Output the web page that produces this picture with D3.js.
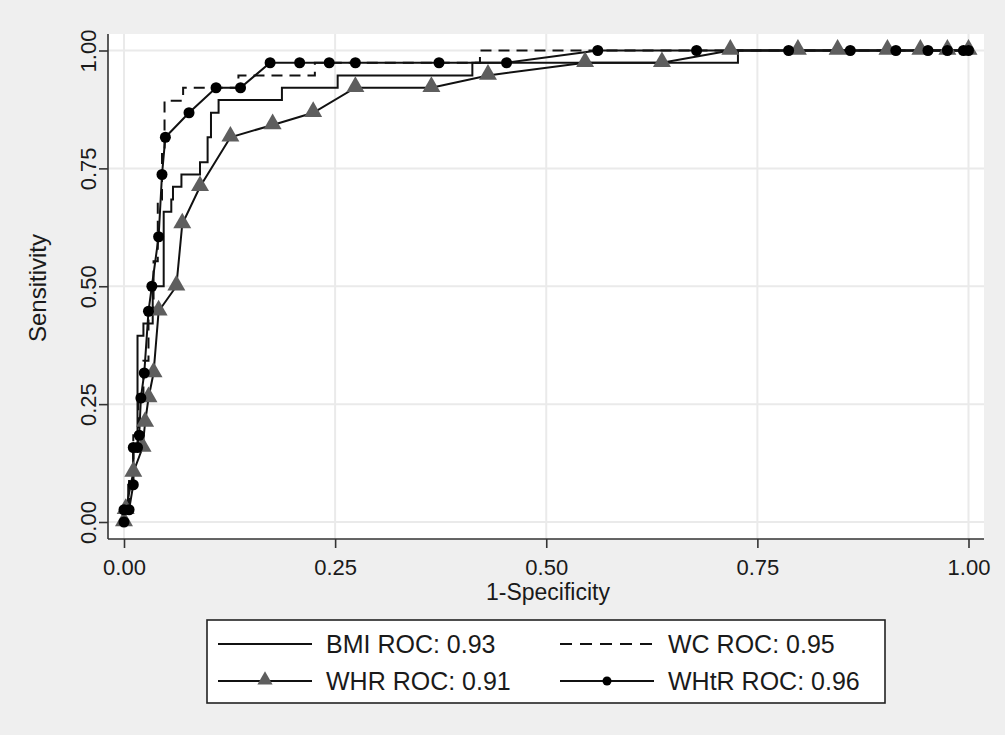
<!DOCTYPE html>
<html>
<head>
<meta charset="utf-8">
<script src="https://cdn.jsdelivr.net/npm/d3@7"></script>
<style>
  body { margin: 0; background: #efefef; }
  text { font-family: "Liberation Sans", Arial, sans-serif; fill: #1a1a1a; }
</style>
</head>
<body>
<svg id="chart" width="1005" height="735"></svg>
<script>
// ROC curves: [1-specificity, sensitivity]
var bmiPts = [[0,0],[0,0.026],[0.005,0.026],[0.005,0.079],[0.011,0.079],[0.011,0.158],[0.016,0.158],
  [0.016,0.395],[0.023,0.395],[0.023,0.421],[0.034,0.421],[0.034,0.5],[0.047,0.5],[0.047,0.658],
  [0.056,0.658],[0.056,0.684],[0.058,0.684],[0.058,0.711],[0.068,0.711],[0.068,0.737],[0.090,0.737],
  [0.090,0.763],[0.099,0.763],[0.099,0.816],[0.103,0.816],[0.103,0.868],[0.112,0.868],[0.112,0.895],
  [0.187,0.895],[0.187,0.921],[0.253,0.921],[0.253,0.947],[0.4125,0.947],[0.4125,0.974],
  [0.727,0.974],[0.727,1],[1,1]];
var wcPts = [[0,0],[0,0.026],[0.006,0.026],[0.006,0.105],[0.011,0.105],[0.011,0.184],[0.017,0.184],
  [0.017,0.263],[0.023,0.263],[0.023,0.342],[0.029,0.342],[0.029,0.447],[0.035,0.447],[0.035,0.553],
  [0.040,0.553],[0.040,0.684],[0.045,0.684],[0.045,0.790],[0.048,0.790],[0.048,0.8935],[0.070,0.8935],
  [0.070,0.921],[0.1355,0.921],[0.1355,0.947],[0.226,0.947],[0.226,0.974],[0.4215,0.974],[0.4215,1],[1,1]];
var whrPts = [[0,0],[0.002,0.026],[0.011,0.105],[0.022,0.158],[0.025,0.211],[0.029,0.263],[0.035,0.316],
  [0.041,0.447],[0.062,0.5],[0.069,0.632],[0.090,0.711],[0.126,0.816],[0.176,0.842],[0.224,0.868],
  [0.274,0.921],[0.364,0.921],[0.431,0.947],[0.546,0.974],[0.637,0.974],[0.718,1],[0.798,1],[0.845,1],
  [0.904,1],[0.943,1],[0.975,1],[1,1]];
var whtrPts = [[0,0],[0,0.026],[0.006,0.026],[0.011,0.079],[0.011,0.158],[0.016,0.158],[0.018,0.184],
  [0.020,0.263],[0.024,0.316],[0.029,0.447],[0.033,0.5],[0.041,0.605],[0.045,0.737],[0.049,0.816],
  [0.077,0.868],[0.109,0.921],[0.138,0.921],[0.173,0.974],[0.208,0.974],[0.243,0.974],[0.274,0.974],
  [0.373,0.974],[0.453,0.974],[0.561,1],[0.678,1],[0.787,1],[0.860,1],[0.914,1],[0.952,1],[0.975,1],
  [0.994,1],[1,1]];
var tickVals = [0, 0.25, 0.5, 0.75, 1];
var legendLabels = ["BMI ROC: 0.93", "WC ROC: 0.95", "WHR ROC: 0.91", "WHtR ROC: 0.96"];

var svg = d3.select("#chart");
var x = d3.scaleLinear().domain([0, 1]).range([124, 968.5]);
var y = d3.scaleLinear().domain([0, 1]).range([522, 50.5]);

// plot region
svg.append("rect").attr("x", 108).attr("y", 34).attr("width", 876).attr("height", 505).attr("fill", "#fff");

// grid
svg.selectAll(".gx").data(tickVals).enter().append("line")
  .attr("x1", d => x(d)).attr("x2", d => x(d)).attr("y1", 34).attr("y2", 539)
  .attr("stroke", "#eaeaea").attr("stroke-width", 2);
svg.selectAll(".gy").data(tickVals).enter().append("line")
  .attr("y1", d => y(d)).attr("y2", d => y(d)).attr("x1", 108).attr("x2", 984)
  .attr("stroke", "#eaeaea").attr("stroke-width", 2);

// axes
var xAxis = svg.append("g").attr("transform", "translate(0,539)")
  .call(d3.axisBottom(x).tickValues(tickVals).tickFormat(d3.format(".2f")).tickSize(9).tickSizeOuter(0));
xAxis.select(".domain").attr("d", "M108,0H984");
xAxis.selectAll("text").attr("font-size", 22).attr("dy", 0).attr("y", 36).style("font-family", "Liberation Sans, Arial");
var yAxis = svg.append("g").attr("transform", "translate(108,0)")
  .call(d3.axisLeft(y).tickValues(tickVals).tickFormat(d3.format(".2f")).tickSize(9).tickSizeOuter(0));
yAxis.select(".domain").attr("d", "M0,34V539");
yAxis.selectAll("text").attr("font-size", 22).attr("x", null).attr("dy", 0)
  .attr("text-anchor", "middle").attr("transform", "translate(-12,0) rotate(-90)")
  .style("font-family", "Liberation Sans, Arial");
svg.selectAll(".domain, .tick line").attr("stroke", "#333").attr("stroke-width", 1.6);

svg.append("text").attr("x", 548).attr("y", 600).attr("text-anchor", "middle").attr("font-size", 23).text("1-Specificity");
svg.append("text").attr("transform", "translate(46,288) rotate(-90)").attr("text-anchor", "middle")
  .attr("font-size", 24).text("Sensitivity");

var line = d3.line().x(d => x(d[0])).y(d => y(d[1]));
var plot = svg.append("g");
plot.append("path").attr("d", line(bmiPts)).attr("fill", "none").attr("stroke", "#111").attr("stroke-width", 2);
plot.append("path").attr("d", line(wcPts)).attr("fill", "none").attr("stroke", "#111").attr("stroke-width", 2)
  .attr("stroke-dasharray", "11,7");
plot.append("path").attr("d", line(whrPts)).attr("fill", "none").attr("stroke", "#111").attr("stroke-width", 2);
plot.append("path").attr("d", line(whtrPts)).attr("fill", "none").attr("stroke", "#111").attr("stroke-width", 2);
var tri = d3.symbol().type(d3.symbolTriangle).size(140);
plot.selectAll(".tri").data(whrPts).enter().append("path")
  .attr("d", tri).attr("transform", d => "translate(" + x(d[0]) + "," + (y(d[1]) - 1) + ")")
  .attr("fill", "#5e5e5e");
plot.selectAll(".dot").data(whtrPts).enter().append("circle")
  .attr("cx", d => x(d[0])).attr("cy", d => y(d[1])).attr("r", 5.5).attr("fill", "#000");

// legend
var lg = svg.append("g");
lg.append("rect").attr("x", 207).attr("y", 620).attr("width", 678).attr("height", 83)
  .attr("fill", "#fff").attr("stroke", "#222").attr("stroke-width", 1.6);
var cols = [218, 560], rows = [644, 681];
legendLabels.forEach(function (lab, i) {
  var cx = cols[i % 2], cy = rows[Math.floor(i / 2)];
  var l = lg.append("line").attr("x1", cx).attr("x2", cx + 94).attr("y1", cy).attr("y2", cy)
    .attr("stroke", "#111").attr("stroke-width", 2);
  if (i == 1) l.attr("stroke-dasharray", "12,8");
  if (i == 2) lg.append("path").attr("d", d3.symbol().type(d3.symbolTriangle).size(100))
    .attr("transform", "translate(" + (cx + 47) + "," + (cy - 1) + ")").attr("fill", "#5e5e5e");
  if (i == 3) lg.append("circle").attr("cx", cx + 47).attr("cy", cy).attr("r", 4.5).attr("fill", "#000");
  lg.append("text").attr("x", cx + 108).attr("y", cy + 9).attr("font-size", 25).text(lab);
});
</script>
</body>
</html>
